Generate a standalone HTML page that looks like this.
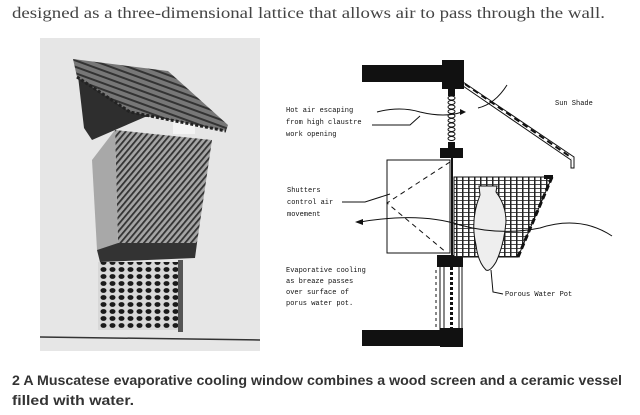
<!DOCTYPE html>
<html><head><meta charset="utf-8"><style>
html,body{margin:0;padding:0;background:#fff;}
svg{display:block;}
</style></head><body>
<svg width="640" height="415" viewBox="0 0 640 415" xmlns="http://www.w3.org/2000/svg">
<defs>
<pattern id="diag" width="4.5" height="4.5" patternUnits="userSpaceOnUse" patternTransform="rotate(40)">
<rect width="4.5" height="4.5" fill="#a5a5a5"/><rect width="1.8" height="4.5" fill="#333"/></pattern>
<pattern id="roof" width="6" height="6" patternUnits="userSpaceOnUse" patternTransform="rotate(20)">
<rect width="6" height="6" fill="#777"/><rect width="6" height="2" fill="#333"/></pattern>
<pattern id="lat" width="9" height="7" patternUnits="userSpaceOnUse">
<rect width="9" height="7" fill="#d8d8d8"/><ellipse cx="4.5" cy="3.5" rx="3" ry="2.4" fill="#1a1a1a"/></pattern>
<pattern id="grid" width="6" height="4" patternUnits="userSpaceOnUse">
<rect width="6" height="4" fill="#fff"/><rect x="0" width="1.5" height="4" fill="#222"/><rect x="0" y="0" width="6" height="0.8" fill="#222"/></pattern>
</defs>
<text x="12" y="18" font-family="Liberation Serif, serif" font-size="16" fill="#444" textLength="593" lengthAdjust="spacingAndGlyphs">designed as a three-dimensional lattice that allows air to pass through the wall.</text>

<!-- photo -->
<rect x="40" y="38" width="220" height="313" fill="#e6e6e6"/>
<polygon points="78,76 84,128 92,140 115,130 145,117 172,115 172,104 110,90" fill="#2e2e2e"/>
<rect x="173" y="112" width="22" height="22" fill="#f4f4f4"/>
<polygon points="73,59 168,71 228,125 226,131 130,112 77,77" fill="url(#roof)"/>
<path d="M77,77 L130,112 L226,131" fill="none" stroke="#222" stroke-width="3" stroke-dasharray="3,2"/>
<polygon points="115,130 212,140 197,243 118,243" fill="url(#diag)"/>
<polygon points="92,160 115,130 118,243 97,250" fill="#a8a8a8"/>
<polygon points="97,250 118,243 197,243 195,258 100,262" fill="#333"/>
<rect x="98" y="262" width="80" height="68" fill="url(#lat)"/>
<rect x="178" y="260" width="5" height="72" fill="#555"/>
<line x1="40" y1="337" x2="260" y2="340" stroke="#333" stroke-width="1.5"/>

<!-- diagram -->
<g fill="#111" stroke="none">
<rect x="362" y="65" width="80" height="17"/>
<rect x="442" y="60" width="22" height="29"/>
<rect x="448" y="88" width="7" height="8"/>
<rect x="448" y="142" width="7" height="8"/>
<rect x="440" y="148" width="23" height="10"/>
<rect x="437" y="255" width="26" height="12"/>
<rect x="362" y="330" width="80" height="16"/>
<rect x="440" y="328" width="23" height="19"/>
</g>
<g fill="none" stroke="#111" stroke-width="1">
<ellipse cx="451.5" cy="98" rx="3.5" ry="2"/><ellipse cx="451.5" cy="102.5" rx="3.5" ry="2"/><ellipse cx="451.5" cy="107" rx="3.5" ry="2"/><ellipse cx="451.5" cy="111.5" rx="3.5" ry="2"/><ellipse cx="451.5" cy="116" rx="3.5" ry="2"/><ellipse cx="451.5" cy="120.5" rx="3.5" ry="2"/><ellipse cx="451.5" cy="125" rx="3.5" ry="2"/><ellipse cx="451.5" cy="129.5" rx="3.5" ry="2"/><ellipse cx="451.5" cy="134" rx="3.5" ry="2"/><ellipse cx="451.5" cy="138.5" rx="3.5" ry="2"/>
<polyline points="463,82 574,157 574,168 571,168 571,160 463,86"/>
<line x1="465" y1="84" x2="572" y2="158" stroke-width="2" stroke-dasharray="6,4"/>
<rect x="387" y="160" width="63" height="93"/>
<polyline points="450,162 387,203 447,253" stroke-dasharray="5,4"/>
<line x1="452" y1="156" x2="452" y2="257" stroke-width="2"/>
<line x1="440" y1="267" x2="440" y2="330"/><line x1="444" y1="267" x2="444" y2="330"/>
<line x1="459" y1="267" x2="459" y2="330"/><line x1="462" y1="267" x2="462" y2="330"/>
<line x1="436" y1="270" x2="436" y2="328" stroke-dasharray="3,3"/>
<line x1="451.5" y1="267" x2="451.5" y2="330" stroke-width="3" stroke-dasharray="3,2"/>
</g>
<polygon points="454,177 552,177 518,257 454,257" fill="url(#grid)" stroke="#111"/>
<line x1="552" y1="177" x2="518" y2="257" stroke="#111" stroke-width="3" stroke-dasharray="6,3"/>
<rect x="544" y="175" width="9" height="4" fill="#111"/>
<path d="M479,186 L497,186 L496,192 Q506,205 506,222 Q504,245 496,262 Q490,272 486,270 Q478,262 476,245 Q470,220 480,195 Z" fill="#eee" stroke="#111" stroke-width="1"/>
<g fill="none" stroke="#111" stroke-width="1">
<path d="M612,236 Q580,215 540,228 Q500,236 460,225 Q420,212 360,222"/>
<path d="M377,112 Q400,106 420,112 Q445,118 462,112"/>
<path d="M478,108 Q495,104 507,85"/>
<path d="M372,125 L410,125 L420,116"/>
<path d="M342,202 L365,202 L390,194"/>
<path d="M491,270 L493,292 L503,294"/>
</g>
<polygon points="355,222 363,219 363,225" fill="#111"/>
<polygon points="466,112 460,109 460,115" fill="#111"/>
<g font-family="Liberation Mono, monospace" font-size="7" fill="#111">
<text x="286" y="112">Hot air escaping</text>
<text x="286" y="124">from high claustre</text>
<text x="286" y="136">work opening</text>
<text x="555" y="105">Sun  Shade</text>
<text x="287" y="192">Shutters</text>
<text x="287" y="204">control air</text>
<text x="287" y="216">movement</text>
<text x="286" y="272">Evaporative cooling</text>
<text x="286" y="283">as breaze passes</text>
<text x="286" y="294">over surface of</text>
<text x="286" y="305">porus water pot.</text>
<text x="505" y="296">Porous Water Pot</text>
</g>
<text x="12" y="385" font-family="Liberation Sans, sans-serif" font-size="14" font-weight="bold" fill="#333" textLength="610" lengthAdjust="spacingAndGlyphs">2 A Muscatese evaporative cooling window combines a wood screen and a ceramic vessel</text>
<text x="12" y="405" font-family="Liberation Sans, sans-serif" font-size="14" font-weight="bold" fill="#333" textLength="122" lengthAdjust="spacingAndGlyphs">filled with water.</text>
</svg>
</body></html>
